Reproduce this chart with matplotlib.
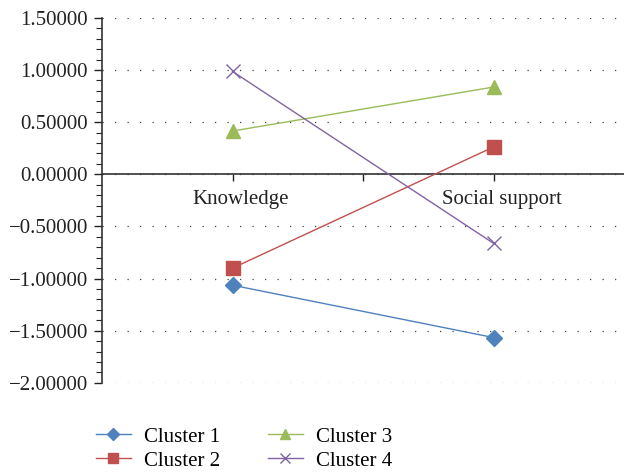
import matplotlib
matplotlib.use("Agg")
import matplotlib.pyplot as plt
from matplotlib.ticker import MultipleLocator, FuncFormatter
import matplotlib.transforms as mtransforms

categories = ["Knowledge", "Social support"]
series_names = ["Cluster 1", "Cluster 2", "Cluster 3", "Cluster 4"]
cluster1 = [-1.064, -1.566]
cluster2 = [-0.900, 0.262]
cluster3 = [0.415, 0.837]
cluster4 = [0.987, -0.662]
values = [cluster1, cluster2, cluster3, cluster4]
colors = ["#4F81BD", "#C0504D", "#9BBB59", "#8064A2"]
markers = ["D", "s", "^", "x"]
msizes = [8, 9.5, 10, 10]

plt.rcParams["font.family"] = ["Liberation Serif", "DejaVu Serif"]

fig = plt.figure(figsize=(6.24, 4.72), dpi=100)
ax = fig.add_axes([0.1635, 0.189, 0.8365, 0.773])

x = list(range(len(categories)))
handles = []
for name, vals, c, m, ms in zip(series_names, values, colors, markers, msizes):
    h, = ax.plot(x, vals, color=c, lw=1.0, marker=m, markersize=ms,
                 markerfacecolor=c, markeredgecolor=c, markeredgewidth=1.0,
                 label=name, zorder=3)
    handles.append(h)

ax.set_xlim(-0.5, 1.5)
ax.set_ylim(-2.0, 1.5)
ax.yaxis.set_major_locator(MultipleLocator(0.5))
ax.yaxis.set_minor_locator(MultipleLocator(0.1))
ax.yaxis.set_major_formatter(FuncFormatter(lambda v, p: ("\u2212" if v < -1e-9 else "") + "%.5f" % abs(v)))
ax.tick_params(axis="y", which="major", direction="out", length=6, width=1.0, labelsize=15, pad=4, colors="#222222")
ax.tick_params(axis="y", which="minor", direction="out", length=4, width=0.8, colors="#222222")

ax.grid(axis="y", which="major", linestyle=(0, (1, 9)), linewidth=0.9, color="#444444")

for s in ["top", "right"]:
    ax.spines[s].set_visible(False)
ax.spines["left"].set_linewidth(1.2)
ax.spines["left"].set_color("#333333")
ax.spines["bottom"].set_position(("data", 0))
ax.spines["bottom"].set_linewidth(1.2)
ax.spines["bottom"].set_color("#333333")

ax.set_xticks([0, 0.5, 1])
ax.set_xticklabels(["Knowledge", "", "Social support"])
ax.tick_params(axis="x", direction="out", length=5, width=1.0, labelsize=15, pad=6, colors="#222222")
offset = mtransforms.ScaledTranslation(8 / 100, 0, fig.dpi_scale_trans)
for lab in ax.get_xticklabels():
    lab.set_transform(lab.get_transform() + offset)

fig.legend(handles=handles, labels=series_names, ncol=2, loc="upper left",
           bbox_to_anchor=(0.14, 0.113), frameon=False, fontsize=15,
           handlelength=1.7, handletextpad=0.6, columnspacing=2.3,
           labelspacing=0.22, borderaxespad=0, markerscale=0.75)

fig.savefig("out.png", dpi=100)
